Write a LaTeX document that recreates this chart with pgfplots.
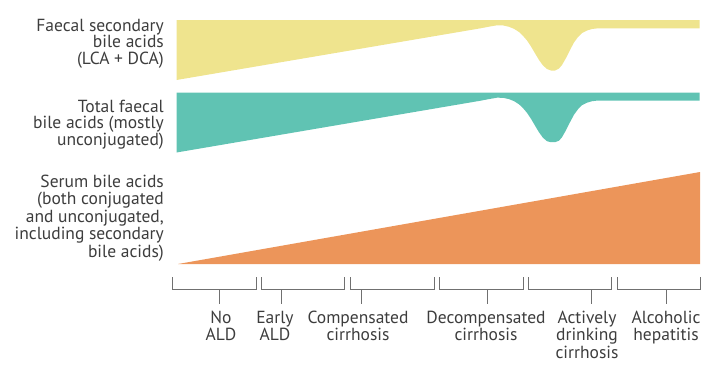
\documentclass[border=0pt]{standalone}
\usepackage{pgfplots}
\pgfplotsset{compat=1.18}
\usepackage{fontspec}
\setmainfont{PT Sans}
\definecolor{cyel}{HTML}{EFE48E}
\definecolor{cteal}{HTML}{60C3B3}
\definecolor{corange}{HTML}{EC955A}
\definecolor{ctext}{HTML}{3D3D3D}
\definecolor{cline}{HTML}{707070}
\tikzset{lbl/.style={font=\fontsize{17.5bp}{19bp}\selectfont, text=ctext, inner sep=0pt}}
\begin{document}
\begin{tikzpicture}
\begin{axis}[
  at={(0,0)}, anchor=origin,
  width=721bp, height=376bp, scale only axis,
  xmin=0, xmax=721, ymin=0, ymax=376, y dir=reverse,
  axis line style={draw=none}, xtick=\empty, ytick=\empty,
  clip=false,
]
% yellow band
\addplot[fill=cyel, draw=none] coordinates {
(176.5,20) (699.5,20) (699.5,28.3) (598,28.3) (592,29) (587,30.5) (582,33) (578,37)
(574,42.5) (570,50) (566,58) (562,65) (559,68.5) (555,70.5) (551,70.5) (547,69)
(543,65.5) (539,60) (535,53.3) (531,46.5) (527,40.5) (523,35.8) (519,32) (514,28.8)
(509,26.8) (503,25.4) (497,25.3) (490,26.5) (480,28.4) (176.5,80)} --cycle;
% teal band
\addplot[fill=cteal, draw=none] coordinates {
(176.5,92.5) (699.5,92.5) (699.5,100.5) (598,100.5) (592,101.2) (587,102.7) (582,105.2) (578,109.2)
(574,114.7) (570,122.2) (566,130.2) (562,137.2) (559,140.7) (555,142.2) (551,142.2) (547,141.2)
(543,137.8) (539,132.3) (535,125.6) (531,118.8) (527,112.8) (523,108.1) (519,104.3) (514,101.1)
(509,99.1) (503,97.8) (497,97.7) (490,98.9) (480,100.8) (176.5,152.5)} --cycle;
% orange band
\addplot[fill=corange, draw=none] coordinates {(178,264) (700,264) (700,172)} --cycle;
% brackets
\addplot[cline, line width=0.9bp] coordinates {(172.5,277) (172.5,289.5) (256,289.5) (256,277)};
\addplot[cline, line width=0.9bp] coordinates {(261.5,277) (261.5,289.5) (344.5,289.5) (344.5,277)};
\addplot[cline, line width=0.9bp] coordinates {(350,277) (350,289.5) (434,289.5) (434,277)};
\addplot[cline, line width=0.9bp] coordinates {(439.5,277) (439.5,289.5) (523.5,289.5) (523.5,277)};
\addplot[cline, line width=0.9bp] coordinates {(528,277) (528,289.5) (611.5,289.5) (611.5,277)};
\addplot[cline, line width=0.9bp] coordinates {(617,277) (617,289.5) (700,289.5) (700,277)};
\addplot[cline, line width=0.9bp] coordinates {(219,289.5) (219,303.5)};
\addplot[cline, line width=0.9bp] coordinates {(281,289.5) (281,303.5)};
\addplot[cline, line width=0.9bp] coordinates {(361,289.5) (361,303.5)};
\addplot[cline, line width=0.9bp] coordinates {(487,289.5) (487,303.5)};
\addplot[cline, line width=0.9bp] coordinates {(591,289.5) (591,303.5)};
\addplot[cline, line width=0.9bp] coordinates {(666,289.5) (666,303.5)};
% left labels
\node[lbl, anchor=base east] at (axis cs:164,31) {Faecal secondary};
\node[lbl, anchor=base east] at (axis cs:164,47.5) {bile acids};
\node[lbl, anchor=base east] at (axis cs:164,64) {(LCA + DCA)};
\node[lbl, anchor=base east] at (axis cs:164,112) {Total faecal};
\node[lbl, anchor=base east] at (axis cs:164,128.5) {bile acids (mostly};
\node[lbl, anchor=base east] at (axis cs:164,145) {unconjugated)};
\node[lbl, anchor=base east] at (axis cs:164,187) {Serum bile acids};
\node[lbl, anchor=base east] at (axis cs:164,204.5) {(both conjugated};
\node[lbl, anchor=base east] at (axis cs:164,222) {and unconjugated,};
\node[lbl, anchor=base east] at (axis cs:164,239.5) {including secondary};
\node[lbl, anchor=base east] at (axis cs:164,257) {bile acids)};
% bottom labels
\node[lbl, anchor=base] at (axis cs:221,323) {No};
\node[lbl, anchor=base] at (axis cs:221,340.5) {ALD};
\node[lbl, anchor=base] at (axis cs:275,323) {Early};
\node[lbl, anchor=base] at (axis cs:275,340.5) {ALD};
\node[lbl, anchor=base] at (axis cs:358,323) {Compensated};
\node[lbl, anchor=base] at (axis cs:358,340.5) {cirrhosis};
\node[lbl, anchor=base] at (axis cs:486,323) {Decompensated};
\node[lbl, anchor=base] at (axis cs:486,340.5) {cirrhosis};
\node[lbl, anchor=base] at (axis cs:587,323) {Actively};
\node[lbl, anchor=base] at (axis cs:587,340.5) {drinking};
\node[lbl, anchor=base] at (axis cs:587,358) {cirrhosis};
\node[lbl, anchor=base] at (axis cs:666,323) {Alcoholic};
\node[lbl, anchor=base] at (axis cs:666,340.5) {hepatitis};
\end{axis}
\end{tikzpicture}
\end{document}
